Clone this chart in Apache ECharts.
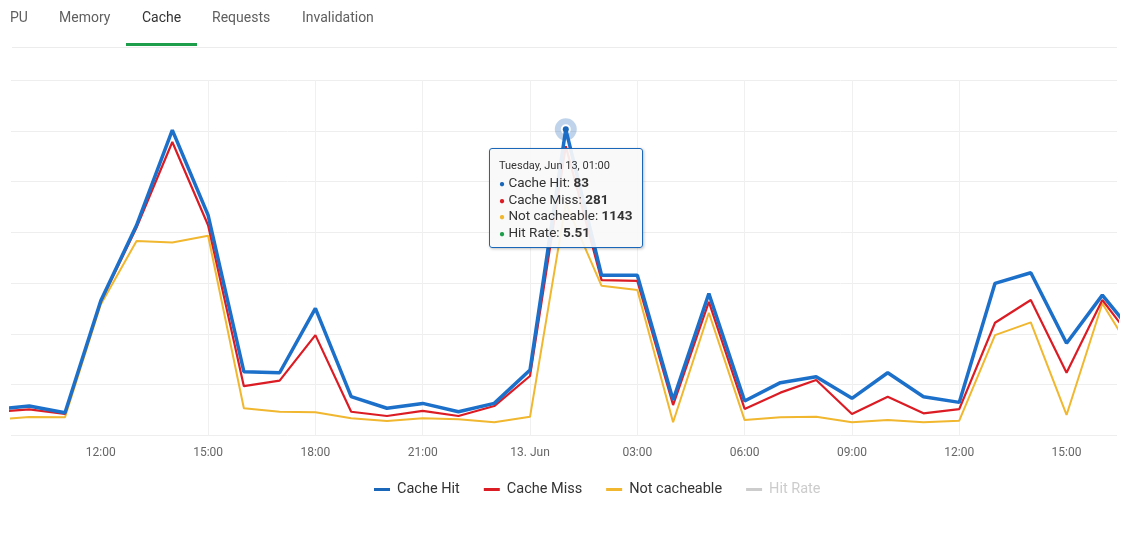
<!DOCTYPE html>
<html>
<head>
<meta charset="utf-8">
<script src="https://cdn.jsdelivr.net/npm/echarts@6/dist/echarts.min.js"></script>
<style>
html,body{margin:0;padding:0;background:#fff;}
#chart{width:1125px;height:533px;}
</style>
</head>
<body>
<div id="chart"></div>
<script>
// Hours counted from Mon, Jun 12 2023 00:00 (so 24 = Tue, Jun 13 00:00)
const hours = [9,10,11,12,13,14,15,16,17,18,19,20,21,22,23,24,25,26,27,28,29,30,31,32,33,34,35,36,37,38,39,40,41];
const cacheHit = [13,16,6,5,11,58,50,71,39,132,74,38,37,21,13,29,83,24,28,25,41,39,49,16,77,118,82,33,194,134,145,24,38];
const cacheMiss = [37,38,16,13,66,495,52,109,153,380,32,25,36,16,80,201,281,28,45,85,54,55,121,181,41,115,44,57,61,110,208,17,73];
const notCacheable = [78,91,90,645,958,950,983,134,117,114,85,71,85,80,65,92,1143,737,716,65,604,76,90,92,65,76,65,73,494,557,101,650,364];

// x-axis tick positions (hours) and their labels
const tickHours = [12,15,18,21,24,27,30,33,36,39];
const tickLabels = ['12:00','15:00','18:00','21:00','13. Jun','03:00','06:00','09:00','12:00','15:00'];

const tabs = ['PU','Memory','Cache','Requests','Invalidation'];
const tabX = [10,59,142,212,302];
const legendNames = ['Cache Hit','Cache Miss','Not cacheable','Hit Rate'];

const C_HIT = '#1a66b8', C_MISS = '#dc1c24', C_NC = '#f0b72f', C_RATE = '#1e9e4a';
const FONT = 'Roboto, "Open Sans", sans-serif';

const chart = echarts.init(document.getElementById('chart'));
// value first, hour second (encode maps x to column 1) so stacking happens on y
const pair = arr => hours.map((h, i) => [arr[i], h]);
const pad = n => (n < 10 ? '0' : '') + n;
const DAYS = ['Sunday','Monday','Tuesday','Wednesday','Thursday','Friday','Saturday'];
const MONTHS = ['Jan','Feb','Mar','Apr','May','Jun','Jul','Aug','Sep','Oct','Nov','Dec'];

const graphic = tabs.map((t, i) => ({
  type: 'text', left: tabX[i], top: 11,
  style: { text: t, fontSize: 14, fontFamily: FONT, fill: t === 'Cache' ? '#333' : '#5f5f5f' }
}));
graphic.push({ type: 'rect', shape: { x: 12, y: 47, width: 1105, height: 1 }, style: { fill: '#ececec' } });
graphic.push({ type: 'rect', shape: { x: 126, y: 43, width: 71, height: 3 }, style: { fill: '#1e9e4a' } });

const enc = { x: 1, y: 0 };

chart.setOption({
  animation: false,
  backgroundColor: '#fff',
  graphic: graphic,
  grid: { left: 11, right: 8, top: 80, bottom: 97.5, containLabel: false },
  legend: {
    data: legendNames, top: 477, left: 369,
    icon: 'rect', itemWidth: 16, itemHeight: 3, itemGap: 24,
    textStyle: { fontSize: 14.5, color: '#333', fontFamily: FONT, padding: [0, 0, 0, 2] },
    inactiveColor: '#cccccc',
    selected: { 'Hit Rate': false }
  },
  tooltip: {
    trigger: 'axis', triggerOn: 'none', alwaysShowContent: true,
    axisPointer: { type: 'none' },
    backgroundColor: 'rgba(248,248,248,0.92)', borderColor: C_HIT, borderWidth: 1, borderRadius: 3,
    padding: [9, 9, 6, 9],
    textStyle: { fontSize: 13.5, color: '#333', fontFamily: FONT, lineHeight: 16.7 },
    extraCssText: 'box-shadow:1px 1px 3px rgba(0,0,0,0.25);line-height:16.7px;',
    position: function () { return [489, 148]; },
    formatter: function (params) {
      const i = params[0].dataIndex;
      const d = new Date(2023, 5, 12, hours[i], 0, 0);
      const head = DAYS[d.getDay()] + ', ' + MONTHS[d.getMonth()] + ' ' + d.getDate() + ', ' + pad(d.getHours()) + ':' + pad(d.getMinutes());
      const h = cacheHit[i], m = cacheMiss[i], n = notCacheable[i];
      const rate = (h / (h + m + n) * 100).toFixed(2);
      const row = (c, name, v) => '<div style="line-height:16.7px;height:16.7px;margin:0;padding:0"><span style="color:' + c + ';font-size:10px">\u25CF</span> ' + name + ': <b>' + v + '</b></div>';
      return '<div style="font-size:11px;line-height:15px;height:15px;margin:0 0 1px 0">' + head + '</div>' +
        row(C_HIT, 'Cache Hit', h) + row(C_MISS, 'Cache Miss', m) + row(C_NC, 'Not cacheable', n) + row(C_RATE, 'Hit Rate', rate);
    }
  },
  xAxis: {
    type: 'value',
    min: 9.49, max: 40.41,
    axisLine: { show: false },
    axisTick: { show: false, customValues: tickHours },
    splitLine: { show: true, showMinLine: false, showMaxLine: false, lineStyle: { color: '#f0f0f0', width: 1 } },
    axisLabel: {
      customValues: tickHours,
      color: '#666', fontSize: 12, fontFamily: FONT, margin: 11,
      hideOverlap: false,
      formatter: function (v) {
        const i = tickHours.indexOf(v);
        return i >= 0 ? tickLabels[i] : '';
      }
    }
  },
  yAxis: {
    type: 'value', min: 0, max: 1750, interval: 250,
    axisLabel: { show: false }, axisLine: { show: false }, axisTick: { show: false },
    splitLine: { lineStyle: { color: '#eeeeee', width: 1 } }
  },
  series: [
    {
      name: 'Not cacheable', type: 'line', stack: 'total', data: pair(notCacheable), encode: enc,
      color: C_NC, symbol: 'none', lineStyle: { width: 2, color: C_NC },
      emphasis: { disabled: true }
    },
    {
      name: 'Cache Miss', type: 'line', stack: 'total', data: pair(cacheMiss), encode: enc,
      color: C_MISS, symbol: 'none', lineStyle: { width: 2.2, color: C_MISS },
      emphasis: { disabled: true }
    },
    {
      name: 'Cache Hit', type: 'line', stack: 'total', data: pair(cacheHit), encode: enc,
      color: C_HIT, symbol: 'circle', symbolSize: 6, showSymbol: false,
      lineStyle: { width: 3.5, color: C_HIT },
      itemStyle: { color: C_HIT },
      emphasis: {
        scale: false,
        lineStyle: { width: 3.5 },
        itemStyle: { color: C_HIT, borderColor: 'rgba(26,102,184,0.28)', borderWidth: 16 }
      }
    },
    {
      name: 'Hit Rate', type: 'line', data: [], color: C_RATE, symbol: 'none'
    }
  ]
});

chart.dispatchAction({ type: 'showTip', seriesIndex: 2, dataIndex: 16 });
</script>
</body>
</html>
